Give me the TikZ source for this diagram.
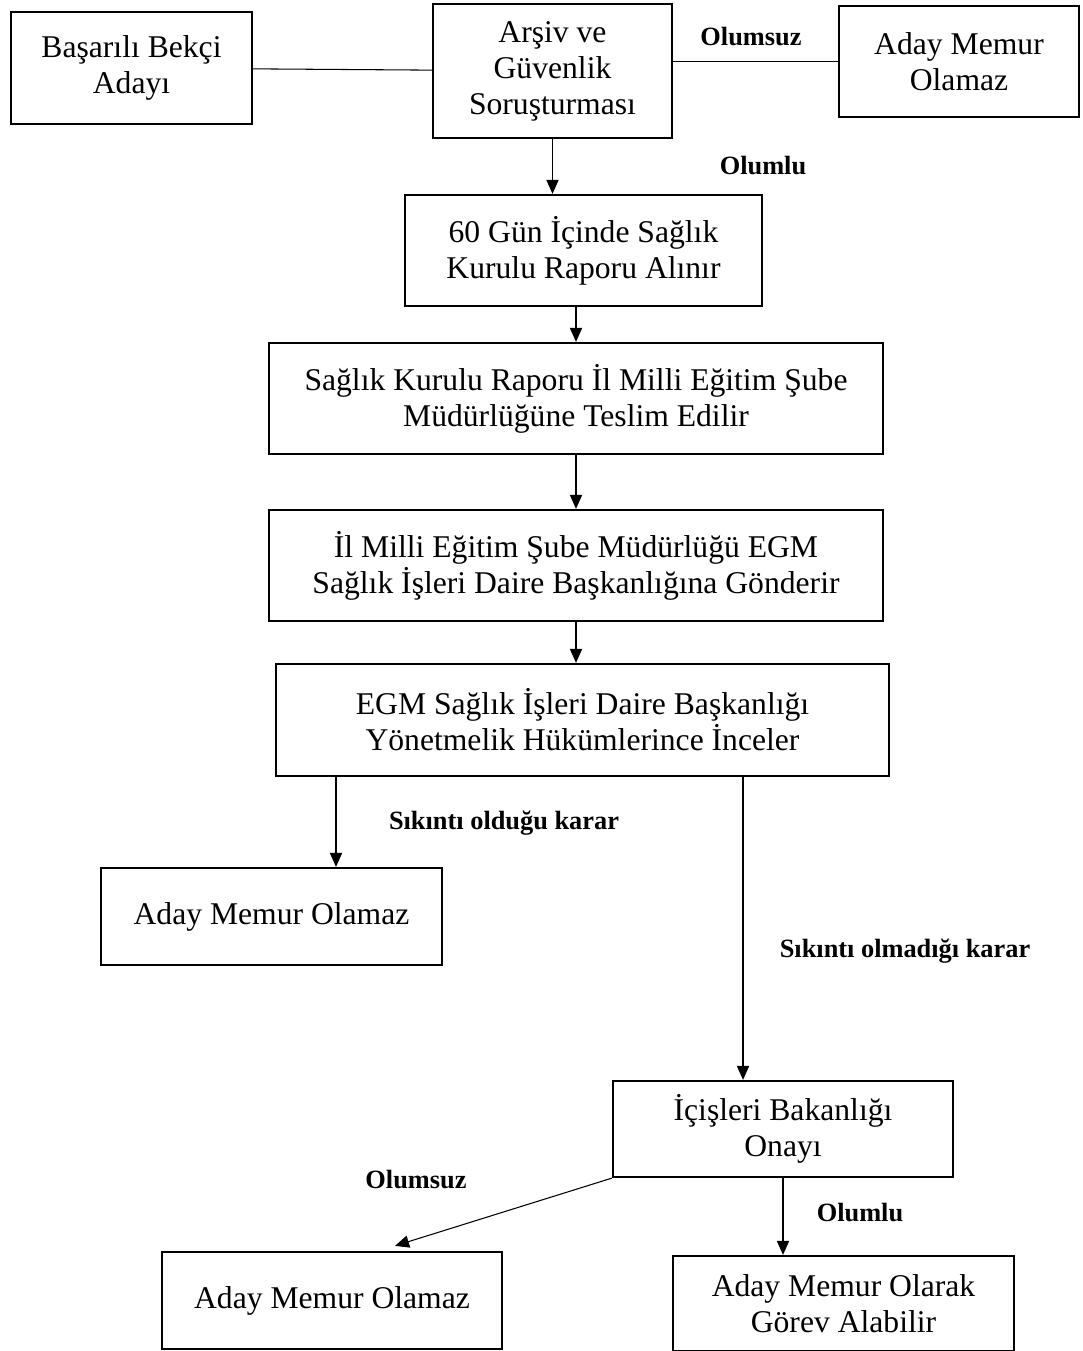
\documentclass[tikz,border=0pt]{standalone}
\usepackage{fontspec}
\setmainfont{Liberation Serif}
\usetikzlibrary{arrows.meta}

\begin{document}
\begin{tikzpicture}

	%\draw[help lines] (0,0) grid (22,27);

	\tikzset{box/.style={draw,line width=1.3pt,inner sep=0pt,align=center,font=\fontsize{18}{20.5}\selectfont},
	         lbl/.style={font=\fontsize{15}{17}\selectfont\bfseries},
	         arr/.style={-{Triangle[length=8pt,width=7pt]},line width=0.6pt}}

	\useasboundingbox (0,0) rectangle (21.64,27.02);

	% top row

	\node[box,minimum width=4.82cm,minimum height=2.24cm] (basari) at (2.63,25.66) {Başarılı Bekçi\\Adayı};
	\node[box,minimum width=4.78cm,minimum height=2.68cm] (arsiv) at (11.05,25.60) {Arşiv ve\\Güvenlik\\Soruşturması};
	\node[box,minimum width=4.80cm,minimum height=2.22cm] (olamaz1) at (19.18,25.79) {Aday Memur\\Olamaz};

	\draw[line width=0.6pt] (basari) -- (arsiv);
	\draw[line width=0.6pt] (arsiv.east |- olamaz1.west) -- (olamaz1.west);
	\node[lbl] at (15.02,26.28) {Olumsuz};

	% health report chain

	\node[box,minimum width=7.14cm,minimum height=2.22cm] (rapor) at (11.67,22.01) {60 Gün İçinde Sağlık\\Kurulu Raporu Alınır};
	\node[box,minimum width=12.28cm,minimum height=2.22cm] (teslim) at (11.52,19.05) {Sağlık Kurulu Raporu İl Milli Eğitim Şube\\Müdürlüğüne Teslim Edilir};
	\node[box,minimum width=12.28cm,minimum height=2.22cm] (gonder) at (11.52,15.71) {İl Milli Eğitim Şube Müdürlüğü EGM\\Sağlık İşleri Daire Başkanlığına Gönderir};
	\node[box,minimum width=12.26cm,minimum height=2.24cm] (incele) at (11.65,12.62) {EGM Sağlık İşleri Daire Başkanlığı\\Yönetmelik Hükümlerince İnceler};

	\draw[arr] (arsiv.south) -- (arsiv.south |- rapor.north);
	\node[lbl] at (15.26,23.70) {Olumlu};
	\draw[arr] (rapor.south -| teslim.north) -- (teslim.north);
	\draw[arr] (teslim.south) -- (gonder.north);
	\draw[arr] (gonder.south) -- (gonder.south |- incele.north);

	% decision

	\node[box,minimum width=6.82cm,minimum height=1.94cm] (olamaz2) at (5.43,8.69) {Aday Memur Olamaz};
	\node[box,minimum width=6.80cm,minimum height=1.92cm] (onay) at (15.66,4.44) {İçişleri Bakanlığı\\Onayı};

	\coordinate (sol) at (6.72,0);
	\coordinate (sag) at (14.86,0);
	\draw[arr] (incele.south -| sol) -- (olamaz2.north -| sol);
	\draw[arr] (incele.south -| sag) -- (onay.north -| sag);
	\node[lbl] at (10.08,10.56) {Sıkıntı olduğu karar};
	\node[lbl] at (18.10,8.00) {Sıkıntı olmadığı karar};

	% ministry approval

	\node[box,minimum width=6.80cm,minimum height=1.94cm] (olamaz3) at (6.64,1.01) {Aday Memur Olamaz};
	\node[box,minimum width=6.82cm,minimum height=1.90cm] (gorev) at (16.87,0.95) {Aday Memur Olarak\\Görev Alabilir};

	\draw[arr] (onay.south west) -- ([xshift=1.26cm,yshift=0.1cm]olamaz3.north);
	\draw[arr] (onay.south) -- (onay.south |- gorev.north);
	\node[lbl] at (8.32,3.42) {Olumsuz};
	\node[lbl] at (17.20,2.76) {Olumlu};

\end{tikzpicture}
\end{document}
